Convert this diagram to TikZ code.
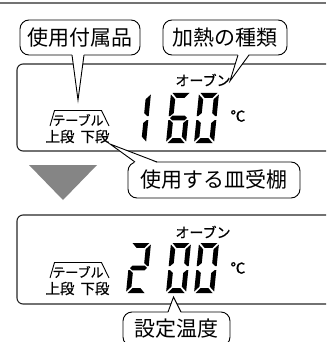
\documentclass[tikz,border=0pt]{standalone}
\usepackage{fontspec}
\setmainfont{Noto Sans CJK JP}
\newfontfamily\jpmed[FakeBold=0.6]{Noto Sans CJK JP}
\newcommand{\sA}{\fill (1.5,0) -- (18.5,0) -- (14,4.8) -- (6,4.8) -- cycle;}
\newcommand{\sD}{\fill (1.5,50) -- (18.5,50) -- (14,45.2) -- (6,45.2) -- cycle;}
\newcommand{\sG}{\fill (1.5,25) -- (3.9,22.6) -- (16.1,22.6) -- (18.5,25) -- (16.1,27.4) -- (3.9,27.4) -- cycle;}
\newcommand{\sF}{\fill (0,1.5) -- (4.8,6.3) -- (4.8,20) -- (1.5,23) -- (0,23) -- cycle;}
\newcommand{\sE}{\fill (0,48.5) -- (4.8,43.7) -- (4.8,30) -- (1.5,27) -- (0,27) -- cycle;}
\newcommand{\sB}{\fill (20,1.5) -- (15.2,6.3) -- (15.2,20) -- (18.5,23) -- (20,23) -- cycle;}
\newcommand{\sC}{\fill (20,48.5) -- (15.2,43.7) -- (15.2,30) -- (18.5,27) -- (20,27) -- cycle;}
\newcommand{\lcddigit}[3]{\begin{scope}[shift={(#1,#2)},xslant=0.1]#3\end{scope}}
\begin{document}
\begin{tikzpicture}[x=1pt,y=-1pt,
  callout/.style={draw, line width=0.9pt, rounded corners=9pt, fill=white, inner sep=0pt, outer sep=0pt, font=\fontsize{21}{21}\selectfont},
  tailline/.style={line width=0.9pt, line join=miter},
  panel/.style={draw=black!85, line width=1.1pt, rounded corners=6pt},
  small/.style={inner sep=0pt, font=\jpmed\fontsize{14}{14}\selectfont},
  tbl/.style={inner sep=0pt, font=\jpmed\fontsize{13}{13}\selectfont},
  degc/.style={inner sep=0pt, font=\jpmed\fontsize{15}{15}\selectfont},
  tier/.style={inner sep=0pt, font=\jpmed\fontsize{14.5}{14.5}\selectfont},
  bracketline/.style={line width=0.9pt},
  topline/.style={line width=2.5pt, draw=black!55},
  arrowgray/.style={fill=black!48}]
\useasboundingbox (0,0) rectangle (326,342);
\clip (0,0) rectangle (326,342);
\draw[topline] (0,3) -- (326,3);
% panels
\draw[panel] (17,64) rectangle (345,151);
\draw[panel] (17,215) rectangle (345,304);
% callouts
\node[callout, minimum width=120pt, minimum height=35pt] (c1) at (80,37.5) {使用付属品};
\node[callout, minimum width=124pt, minimum height=35pt] (c2) at (225,37.5) {加熱の種類};
\node[callout, minimum width=172pt, minimum height=36pt] (c3) at (214,180) {使用する皿受棚};
\node[callout, minimum width=107pt, minimum height=34pt] (c4) at (176.5,329) {設定温度};
% tails
\coordinate (t1) at (78,100);
\coordinate (t2) at (230,81);
\coordinate (t3) at (110,144);
\coordinate (t4) at (173.5,297);
\fill[white] ([xshift=-8pt,yshift=1pt]c1.south) -- (t1) -- ([xshift=4pt,yshift=1pt]c1.south) -- cycle;
\draw[tailline] ([xshift=-8pt]c1.south) -- (t1) -- ([xshift=4pt]c1.south);
\fill[white] ([xshift=13pt,yshift=1pt]c2.south) -- (t2) -- ([xshift=24pt,yshift=1pt]c2.south) -- cycle;
\draw[tailline] ([xshift=13pt]c2.south) -- (t2) -- ([xshift=24pt]c2.south);
\fill[white] ([xshift=-79pt,yshift=-1pt]c3.north) -- (t3) -- ([xshift=-57pt,yshift=-1pt]c3.north) -- cycle;
\draw[tailline] ([xshift=-79pt]c3.north) -- (t3) -- ([xshift=-57pt]c3.north);
\fill[white] ([xshift=-8.5pt,yshift=-1pt]c4.north) -- (t4) -- ([xshift=4.5pt,yshift=-1pt]c4.north) -- cycle;
\draw[tailline] ([xshift=-8.5pt]c4.north) -- (t4) -- ([xshift=4.5pt]c4.north);
% gray arrow
\fill[arrowgray] (29,165) -- (97,165) -- (63,200) -- cycle;
% upper panel contents
\node[small] (ov1) at (203,80) {オーブン};
\node[degc] (dc1) at (238,116) {℃};
\node[tbl] (tb1) at (78,120) {テーブル};
\draw[bracketline] (50,126) -- (54.5,110.5) -- (101.5,110.5) -- (109,126);
\node[tier] (tr1) at (77.5,136.5) {上段\hspace{6pt}下段};
\lcddigit{131}{93}{\sB\sC}
\lcddigit{171}{93}{\sA\sF\sG\sE\sD\sC}
\lcddigit{199}{93}{\sA\sB\sC\sD\sE\sF}
% lower panel contents
\node[small] (ov2) at (203,232) {オーブン};
\node[degc] (dc2) at (238,268) {℃};
\node[tbl] (tb2) at (78,272) {テーブル};
\draw[bracketline] (50,278) -- (54.5,262.5) -- (101.5,262.5) -- (109,278);
\node[tier] (tr2) at (77.5,288.5) {上段\hspace{6pt}下段};
\lcddigit{131}{243}{\sA\sB\sG\sE\sD}
\lcddigit{171}{243}{\sA\sB\sC\sD\sE\sF}
\lcddigit{199}{243}{\sA\sB\sC\sD\sE\sF}
\end{tikzpicture}
\end{document}
